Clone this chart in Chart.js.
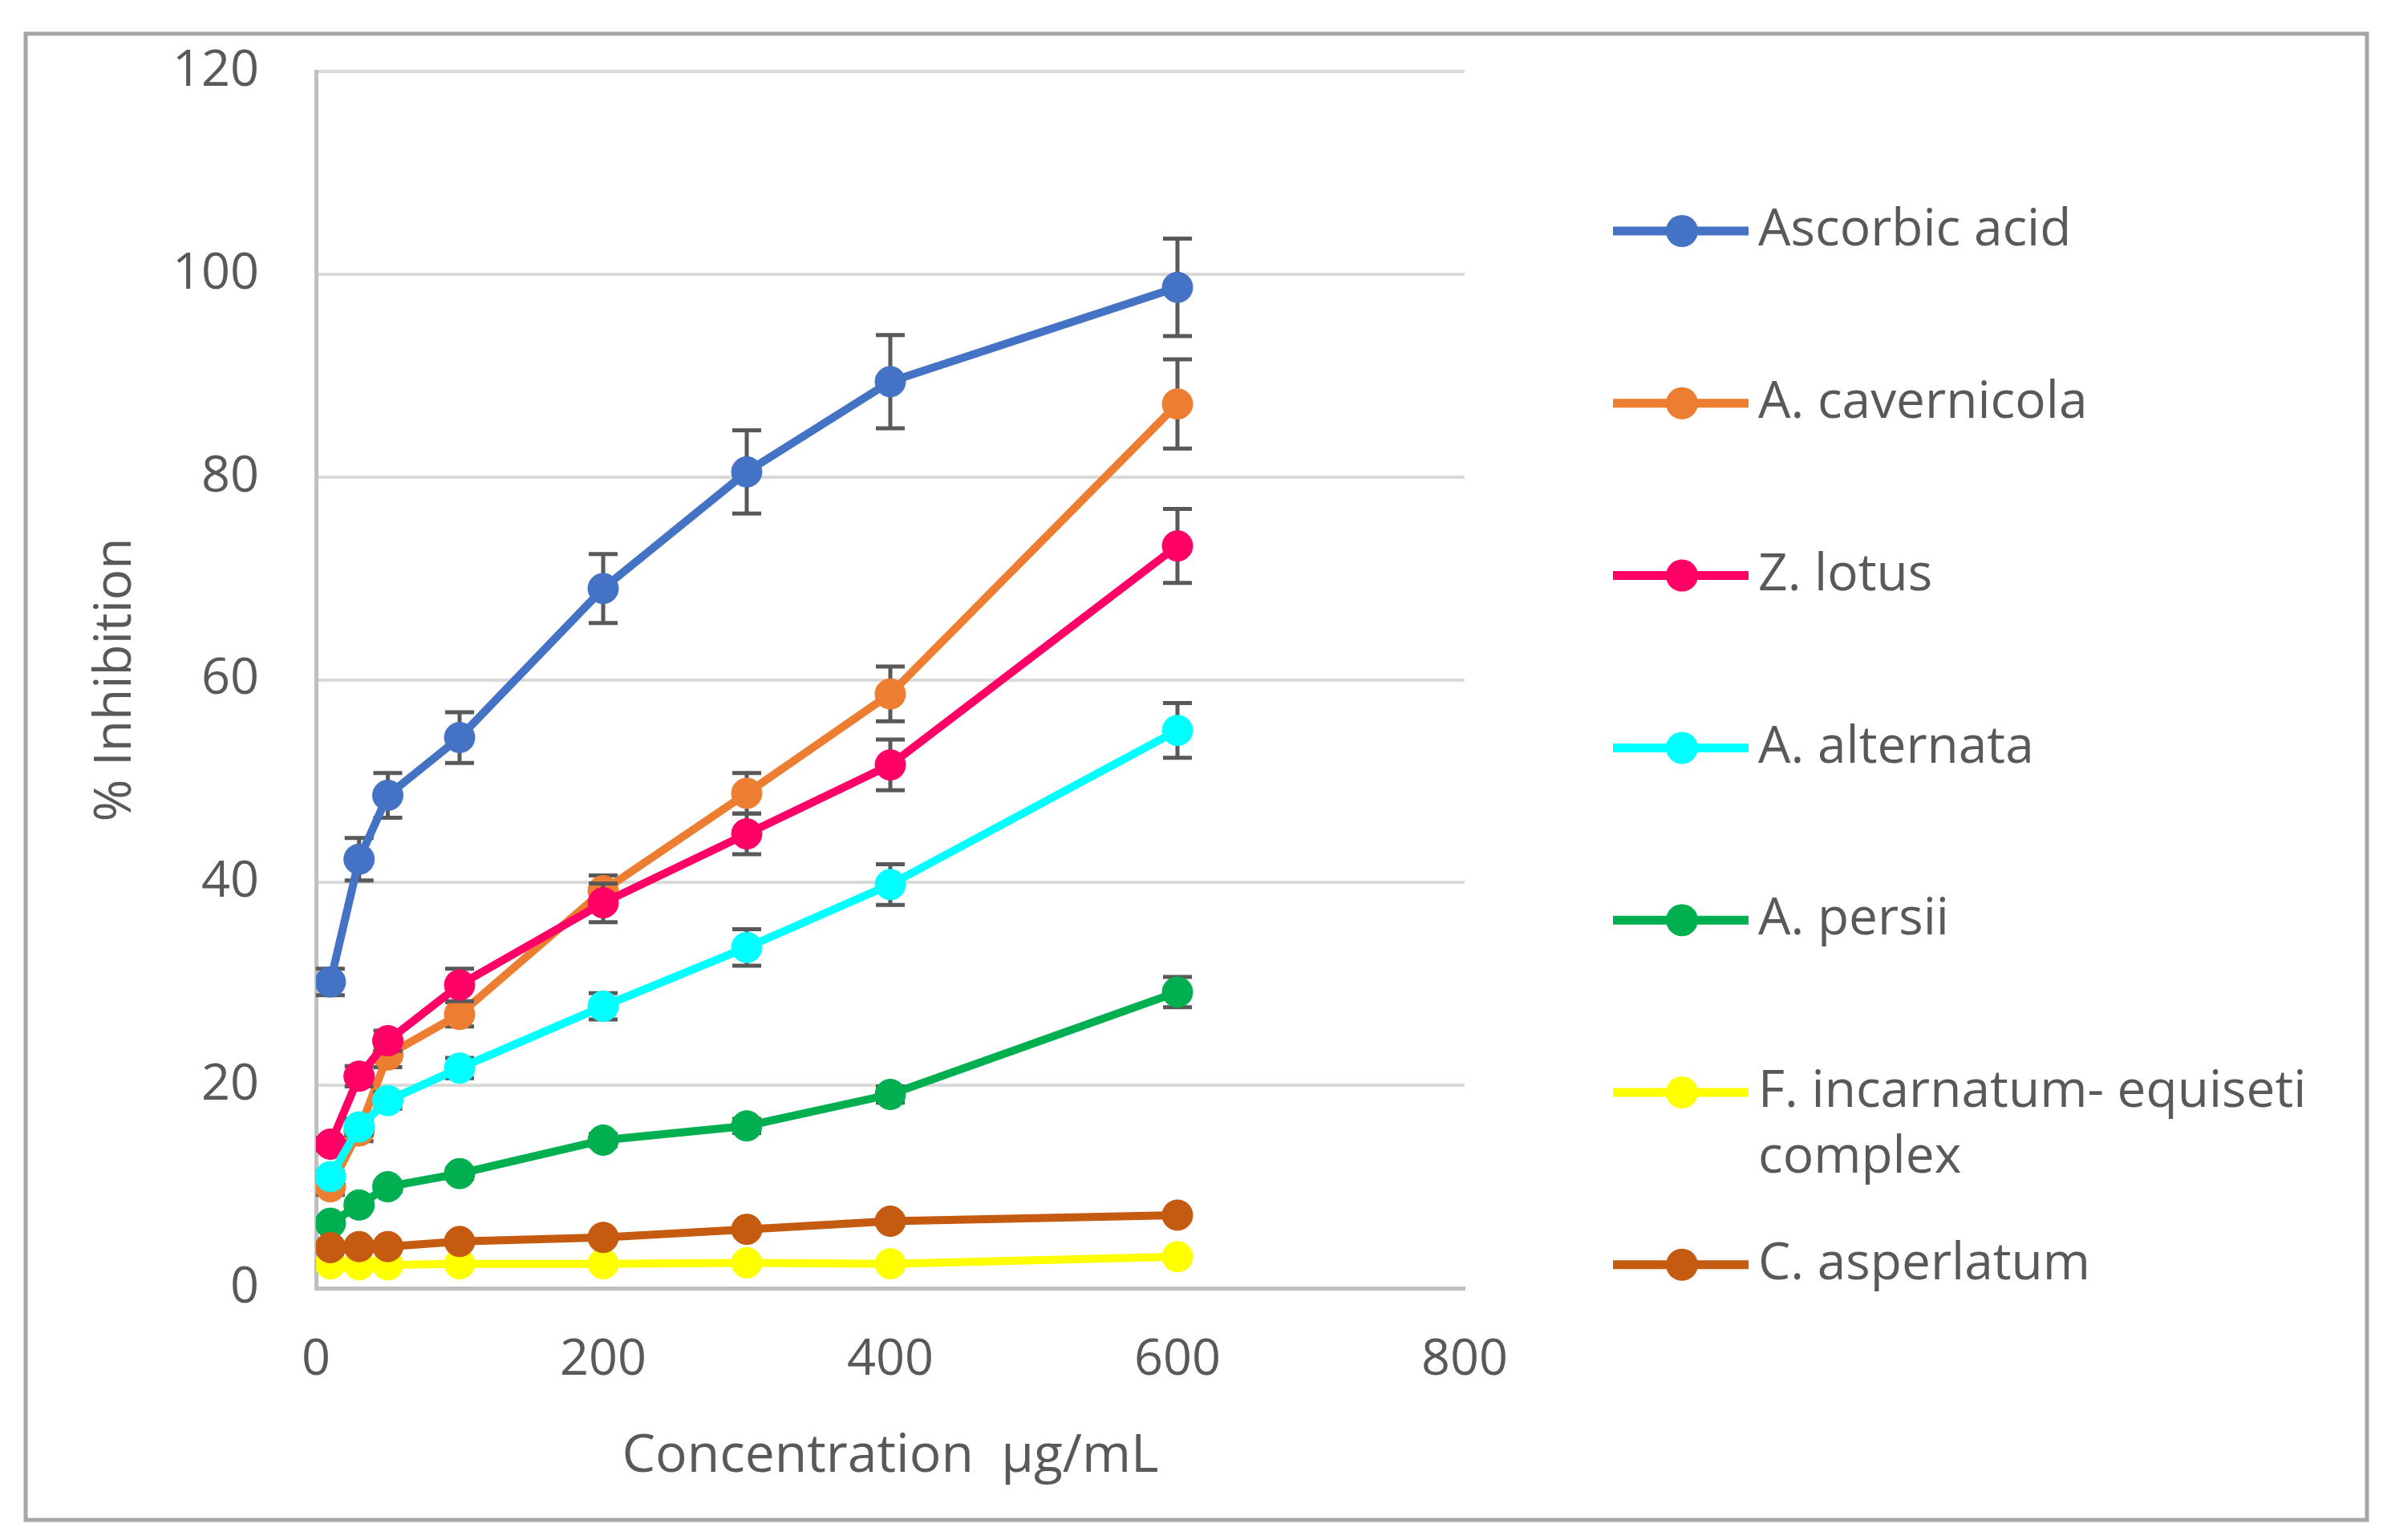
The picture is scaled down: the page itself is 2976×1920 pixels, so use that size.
<!DOCTYPE html>
<html>
<head>
<meta charset="utf-8">
<title>% Inhibition vs concentration</title>
<script src="https://cdn.jsdelivr.net/npm/chart.js@4.4.1/dist/chart.umd.min.js"></script>
<style>
    html, body { margin: 0; padding: 0; background: #ffffff; }
    #chart { display: block; }
</style>
</head>
<body>
<canvas id="chart" width="2976" height="1920"></canvas>
<script>
"use strict";

// concentrations (µg/mL)
const concentrations = [10, 30, 50, 100, 200, 300, 400, 600];

const seriesNames = [
    "Ascorbic acid",
    "A. cavernicola",
    "Z. lotus",
    "A. alternata",
    "A. persii",
    "F. incarnatum- equiseti complex",
    "C. asperlatum"
];

const seriesColors = ["#4472C4", "#ED7D31", "#FF0066", "#00FFFF", "#00B050", "#FFFF00", "#C55A11"];

// % inhibition
const ascorbicAcid = [30.2, 42.3, 48.6, 54.3, 69.0, 80.5, 89.4, 98.7];
const cavernicola = [10.0, 15.5, 23.0, 27.0, 39.2, 48.8, 58.6, 87.2];
const lotus = [14.2, 20.9, 24.4, 29.9, 38.0, 44.8, 51.6, 73.2];
const alternata = [11.0, 15.9, 18.5, 21.7, 27.8, 33.6, 39.8, 55.0];
const persii = [6.4, 8.2, 10.0, 11.3, 14.6, 16.0, 19.1, 29.2];
const incarnatum = [2.4, 2.3, 2.3, 2.4, 2.4, 2.5, 2.4, 3.1];
const asperlatum = [4.0, 4.1, 4.1, 4.6, 5.0, 5.8, 6.6, 7.2];

// standard deviations (error bars)
const ascorbicAcidErr = [1.3, 2.1, 2.2, 2.5, 3.4, 4.1, 4.6, 4.8];
const cavernicolaErr = [0.8, 1.0, 1.2, 1.2, 1.5, 2.0, 2.7, 4.4];
const lotusErr = [0.6, 1.0, 1.0, 1.6, 1.9, 2.0, 2.5, 3.65];
const alternataErr = [0.5, 0.8, 0.8, 1.0, 1.3, 1.8, 2.0, 2.7];
const persiiErr = [0.3, 0.4, 0.5, 0.5, 0.6, 0.7, 0.8, 1.5];
const incarnatumErr = [0.2, 0.2, 0.2, 0.2, 0.2, 0.2, 0.2, 0.3];
const asperlatumErr = [0.2, 0.2, 0.2, 0.3, 0.3, 0.3, 0.4, 0.4];

const xTicks = [0, 200, 400, 600, 800];
const yTicks = [0, 20, 40, 60, 80, 100, 120];

const allValues = [ascorbicAcid, cavernicola, lotus, alternata, persii, incarnatum, asperlatum];
const allErrors = [ascorbicAcidErr, cavernicolaErr, lotusErr, alternataErr, persiiErr, incarnatumErr, asperlatumErr];

const TEXT_COLOR = "#595959";
const FONT = "'Open Sans', sans-serif";

Chart.defaults.font.family = FONT;
Chart.defaults.color = TEXT_COLOR;

function wrapText(ctx, text, maxWidth) {
    const words = text.split(" ");
    const lines = [];
    let line = "";
    words.forEach(function (word) {
        const test = line ? line + " " + word : word;
        if (line && ctx.measureText(test).width > maxWidth) {
            lines.push(line);
            line = word;
        } else {
            line = test;
        }
    });
    if (line) lines.push(line);
    return lines;
}

const whiteBackground = {
    id: "whiteBackground",
    beforeDraw(chart) {
        const ctx = chart.ctx;
        ctx.save();
        ctx.fillStyle = "#ffffff";
        ctx.fillRect(0, 0, chart.width, chart.height);
        ctx.restore();
    }
};

// error bars go under each series' own line and markers
const errorBars = {
    id: "errorBars",
    beforeDatasetDraw(chart, args) {
        const ds = chart.data.datasets[args.index];
        if (!ds.errors) return;
        const ctx = chart.ctx;
        const xs = chart.scales.x;
        const ys = chart.scales.y;
        ctx.save();
        ctx.strokeStyle = TEXT_COLOR;
        ctx.lineWidth = 5;
        ds.data.forEach(function (pt, i) {
            const err = ds.errors[i];
            if (!err) return;
            const px = xs.getPixelForValue(pt.x);
            const top = ys.getPixelForValue(pt.y + err);
            const bottom = ys.getPixelForValue(pt.y - err);
            ctx.beginPath();
            ctx.moveTo(px, top);
            ctx.lineTo(px, bottom);
            ctx.moveTo(px - 18, top);
            ctx.lineTo(px + 18, top);
            ctx.moveTo(px - 18, bottom);
            ctx.lineTo(px + 18, bottom);
            ctx.stroke();
        });
        ctx.restore();
    }
};

const sideLegend = {
    id: "sideLegend",
    afterDraw(chart) {
        const ctx = chart.ctx;
        ctx.save();
        ctx.font = "64px " + FONT;
        ctx.textBaseline = "middle";
        ctx.textAlign = "left";
        chart.data.datasets.forEach(function (ds, i) {
            const y = 288 + i * 214.8;
            ctx.strokeStyle = ds.borderColor;
            ctx.lineWidth = 11;
            ctx.beginPath();
            ctx.moveTo(2011, y);
            ctx.lineTo(2180, y);
            ctx.stroke();
            ctx.fillStyle = ds.pointBackgroundColor;
            ctx.beginPath();
            ctx.arc(2097, y, 20, 0, Math.PI * 2);
            ctx.fill();
            ctx.fillStyle = TEXT_COLOR;
            wrapText(ctx, ds.label, 745).forEach(function (line, j) {
                ctx.fillText(line, 2192, y + j * 82);
            });
        });

        // outer frame
        ctx.strokeStyle = "#a6a6a6";
        ctx.lineWidth = 5;
        ctx.strokeRect(32, 42, 2919, 1853);
        ctx.restore();
    }
};

const datasets = seriesNames.map(function (name, i) {
    return {
        label: name,
        data: concentrations.map((c, j) => ({x: c, y: allValues[i][j]})),
        errors: allErrors[i],
        borderColor: seriesColors[i],
        backgroundColor: seriesColors[i],
        pointBackgroundColor: seriesColors[i],
        pointBorderColor: seriesColors[i],
        pointBorderWidth: 1,
        pointRadius: 19,
        borderWidth: 10,
        tension: 0,
        fill: false,
        order: seriesNames.length - i   // later series drawn on top
    };
});

new Chart(document.getElementById("chart").getContext("2d"), {
    type: "line",
    data: {datasets: datasets},
    options: {
        responsive: false,
        animation: false,
        devicePixelRatio: 1,
        layout: {padding: {left: 0, top: 89, right: 1150, bottom: 0}},
        plugins: {
            legend: {display: false},
            tooltip: {enabled: false}
        },
        scales: {
            x: {
                type: "linear",
                min: xTicks[0],
                max: xTicks[xTicks.length - 1],
                afterBuildTicks: scale => { scale.ticks = xTicks.map(v => ({value: v})); },
                afterFit: scale => { scale.height = 314; },
                grid: {display: false, drawTicks: false},
                border: {display: true, color: "#bfbfbf", width: 5},
                ticks: {padding: 52, color: TEXT_COLOR, font: {size: 63}},
                title: {
                    display: true,
                    text: "Concentration  µg/mL",
                    color: TEXT_COLOR,
                    font: {size: 66},
                    padding: {top: 0, bottom: 64}
                }
            },
            y: {
                min: yTicks[0],
                max: yTicks[yTicks.length - 1],
                afterBuildTicks: scale => { scale.ticks = yTicks.map(v => ({value: v})); },
                afterFit: scale => { scale.width = 394; },
                grid: {
                    drawTicks: true,
                    tickLength: 71,          // invisible tick marks give the label gap
                    tickColor: "rgba(0,0,0,0)",
                    lineWidth: 4,
                    color: c => (c.tick && c.tick.value === 0 ? "rgba(0,0,0,0)" : "#d9d9d9")
                },
                border: {display: true, color: "#bfbfbf", width: 5},
                ticks: {padding: 0, color: TEXT_COLOR, font: {size: 63}},
                title: {
                    display: true,
                    text: "% Inhibition",
                    color: TEXT_COLOR,
                    font: {size: 64},
                    padding: {top: 106, bottom: 0}
                }
            }
        }
    },
    plugins: [whiteBackground, errorBars, sideLegend]
});
</script>
</body>
</html>
